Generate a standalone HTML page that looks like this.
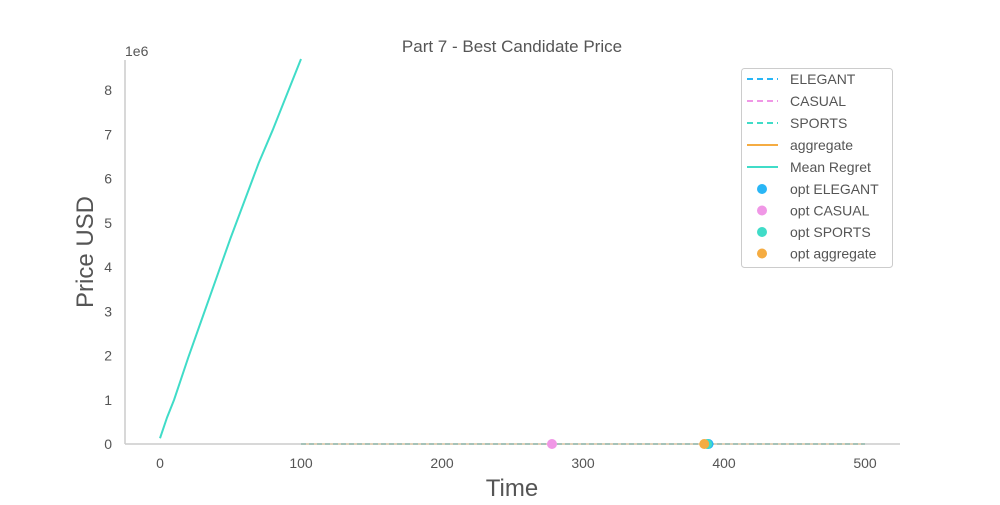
<!DOCTYPE html>
<html><head><meta charset="utf-8"><style>
body{margin:0;background:#fff;font-family:"Liberation Sans",sans-serif}
svg text{font-family:"Liberation Sans",sans-serif;fill:#555}
</style></head><body>
<svg id="chart" width="1000" height="500">
<text x="512" y="52" font-size="17" text-anchor="middle">Part 7 - Best Candidate Price</text>
<text x="125" y="56" font-size="14">1e6</text>
<g id="axes"></g><g id="marks"></g>
<text x="512" y="496" font-size="24" text-anchor="middle">Time</text>
<text transform="translate(93,252) rotate(-90)" font-size="24" text-anchor="middle">Price USD</text>
<g>
<rect x="741.5" y="68.5" width="151" height="199" rx="3" fill="#fff" stroke="#ccc"/>
<g id="legend"></g></g>
</svg>
<script>
const xTicks=[0,100,200,300,400,500];
const yTicks=[0,1,2,3,4,5,6,7,8];
const regretT=[0,5,10,20,30,40,50,60,70,80,90,100];
const regretV=[0.13,0.6,1.0,1.95,2.85,3.75,4.65,5.5,6.35,7.1,7.9,8.7];
const priceT=[100,500];
const priceV=[0.0001,0.0001];
const optNames=["opt ELEGANT","opt CASUAL","opt SPORTS","opt aggregate"];
const optT=[389,278,388,386];
const optV=[0.0001,0.0001,0.0001,0.0001];
const optColors=["#29b6f6","#f097e6","#40dcc8","#f5ac42"];
const X=t=>160+t*1.41, Y=v=>444-v*44.25;
const NS="http://www.w3.org/2000/svg";
function mk(p,tag,a){const e=document.createElementNS(NS,tag);for(const k in a)e.setAttribute(k,a[k]);p.appendChild(e);return e;}
const ax=document.getElementById('axes'),mg=document.getElementById('marks'),lg=document.getElementById('legend');
let l=mk(ax,'line',{x1:125,y1:60,x2:125,y2:444,stroke:'#ccc','stroke-width':1.5});

l=mk(ax,'line',{x1:125,y1:444,x2:900,y2:444,stroke:'#ccc','stroke-width':1.5});

xTicks.forEach(t=>{const e=mk(ax,'text',{x:X(t),y:468,'font-size':14,'text-anchor':'middle'});e.textContent=t;
});
yTicks.forEach(t=>{const e=mk(ax,'text',{x:112,y:Y(t)+5,'font-size':14,'text-anchor':'end'});e.textContent=t;
});
[["#29b6f6","elegant-line"],["#f097e6","casual-line"],["#40dcc8","sports-line"]].forEach(c=>{
const e=mk(mg,'polyline',{points:priceT.map((t,i)=>X(t)+','+Y(priceV[i])).join(' '),fill:'none',stroke:c[0],'stroke-width':1.5,'stroke-dasharray':'5,3',opacity:0.5});
});
let e=mk(mg,'polyline',{points:priceT.map((t,i)=>X(t)+','+Y(priceV[i])).join(' '),fill:'none',stroke:'#f5ac42','stroke-width':1.5,opacity:0.3});

e=mk(mg,'polyline',{points:regretT.map((t,i)=>X(t)+','+Y(regretV[i])).join(' '),fill:'none',stroke:'#40dcc8','stroke-width':2});

optT.forEach((t,i)=>{const c=mk(mg,'circle',{cx:X(t),cy:Y(optV[i]),r:5,fill:optColors[i]});
});
const items=[["ELEGANT","#29b6f6","d"],["CASUAL","#f097e6","d"],["SPORTS","#40dcc8","d"],["aggregate","#f5ac42","s"],["Mean Regret","#40dcc8","s"]];
items.forEach((it,i)=>{const y=79+i*22;
const ln=mk(lg,'line',{x1:747,y1:y,x2:778,y2:y,stroke:it[1],'stroke-width':2,'stroke-dasharray':it[2]=='d'?'6,4':''});

const tx=mk(lg,'text',{x:790,y:y+5,'font-size':14});tx.textContent=it[0];
});
optNames.forEach((n,i)=>{const y=189+i*21.5;
const c=mk(lg,'circle',{cx:762,cy:y,r:5,fill:optColors[i]});

const tx=mk(lg,'text',{x:790,y:y+5,'font-size':14});tx.textContent=n;
});
</script>
</body></html>
